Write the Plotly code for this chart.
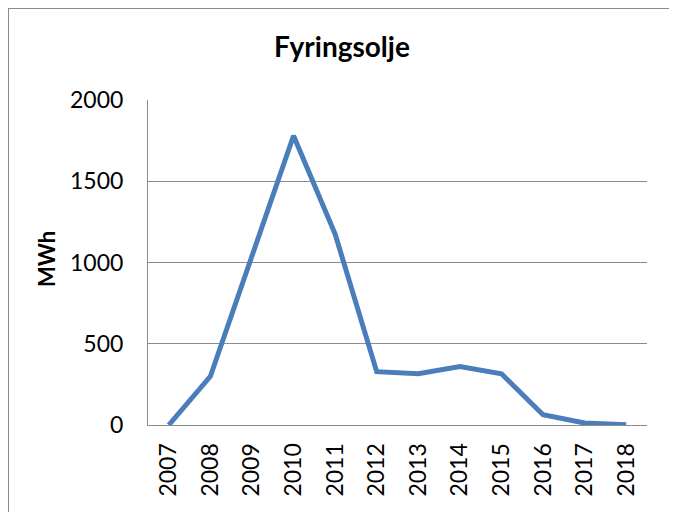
import plotly.graph_objects as go

years = ["2007", "2008", "2009", "2010", "2011", "2012", "2013", "2014", "2015", "2016", "2017", "2018"]
mwh = [0, 300, 1040, 1780, 1175, 328, 315, 360, 315, 63, 12, 2]
y_ticks = [0, 500, 1000, 1500, 2000]

# page body adds an 8px offset at top/left; work in page coordinates
OFF = 8
W, H = 677 - OFF, 512 - OFF
L, R, T, B = 148 - OFF, 30, 100 - OFF, 87
pw = W - L - R
ph = H - T - B


def px(xp):
    return (xp - OFF - L) / pw


def py(yp):
    return (H - B - (yp - OFF)) / ph


fig = go.Figure()
fig.add_trace(go.Scatter(x=years, y=mwh, mode="lines",
                         line=dict(color="#4A7EBB", width=5),
                         hoverinfo="x+y", showlegend=False))

fig.update_layout(
    width=W, height=H,
    margin=dict(l=L, r=R, t=T, b=B, pad=0, autoexpand=False),
    paper_bgcolor="white", plot_bgcolor="white",
    font=dict(family="Lato", color="#000000"),
    title=dict(text="<b>Fyringsolje</b>", xref="container", yref="container",
               x=(342 - OFF) / W, y=1 - (47 - OFF) / H, xanchor="center", yanchor="middle",
               font=dict(family="Lato", size=28, color="#000000")),
    xaxis=dict(type="category", range=[-0.5, 11.5], showgrid=False,
               showline=True, linecolor="#8c8c8c", linewidth=1,
               ticks="", tickangle=-90, tickfont=dict(size=23, family="Lato"),
               ticklabelstandoff=8, automargin=False, fixedrange=True),
    yaxis=dict(range=[0, 2000], tickvals=y_ticks, showgrid=True,
               gridcolor="#8c8c8c", gridwidth=1, zeroline=False,
               showline=True, linecolor="#8c8c8c", linewidth=1,
               ticks="", tickfont=dict(size=23, family="Lato"),
               ticklabelstandoff=19, automargin=False, fixedrange=True),
    annotations=[dict(text="<b>MWh</b>", xref="paper", yref="paper",
                      x=px(46), y=py(259), textangle=-90,
                      showarrow=False, xanchor="center", yanchor="middle",
                      font=dict(family="Lato", size=22, color="#000000"))],
    shapes=[dict(type="rect", xref="paper", yref="paper",
                 x0=px(8), x1=px(676),
                 y0=py(540), y1=py(8),
                 line=dict(color="#8c8c8c", width=2), fillcolor="rgba(0,0,0,0)",
                 layer="below")],
)

fig.write_html("out.html")
